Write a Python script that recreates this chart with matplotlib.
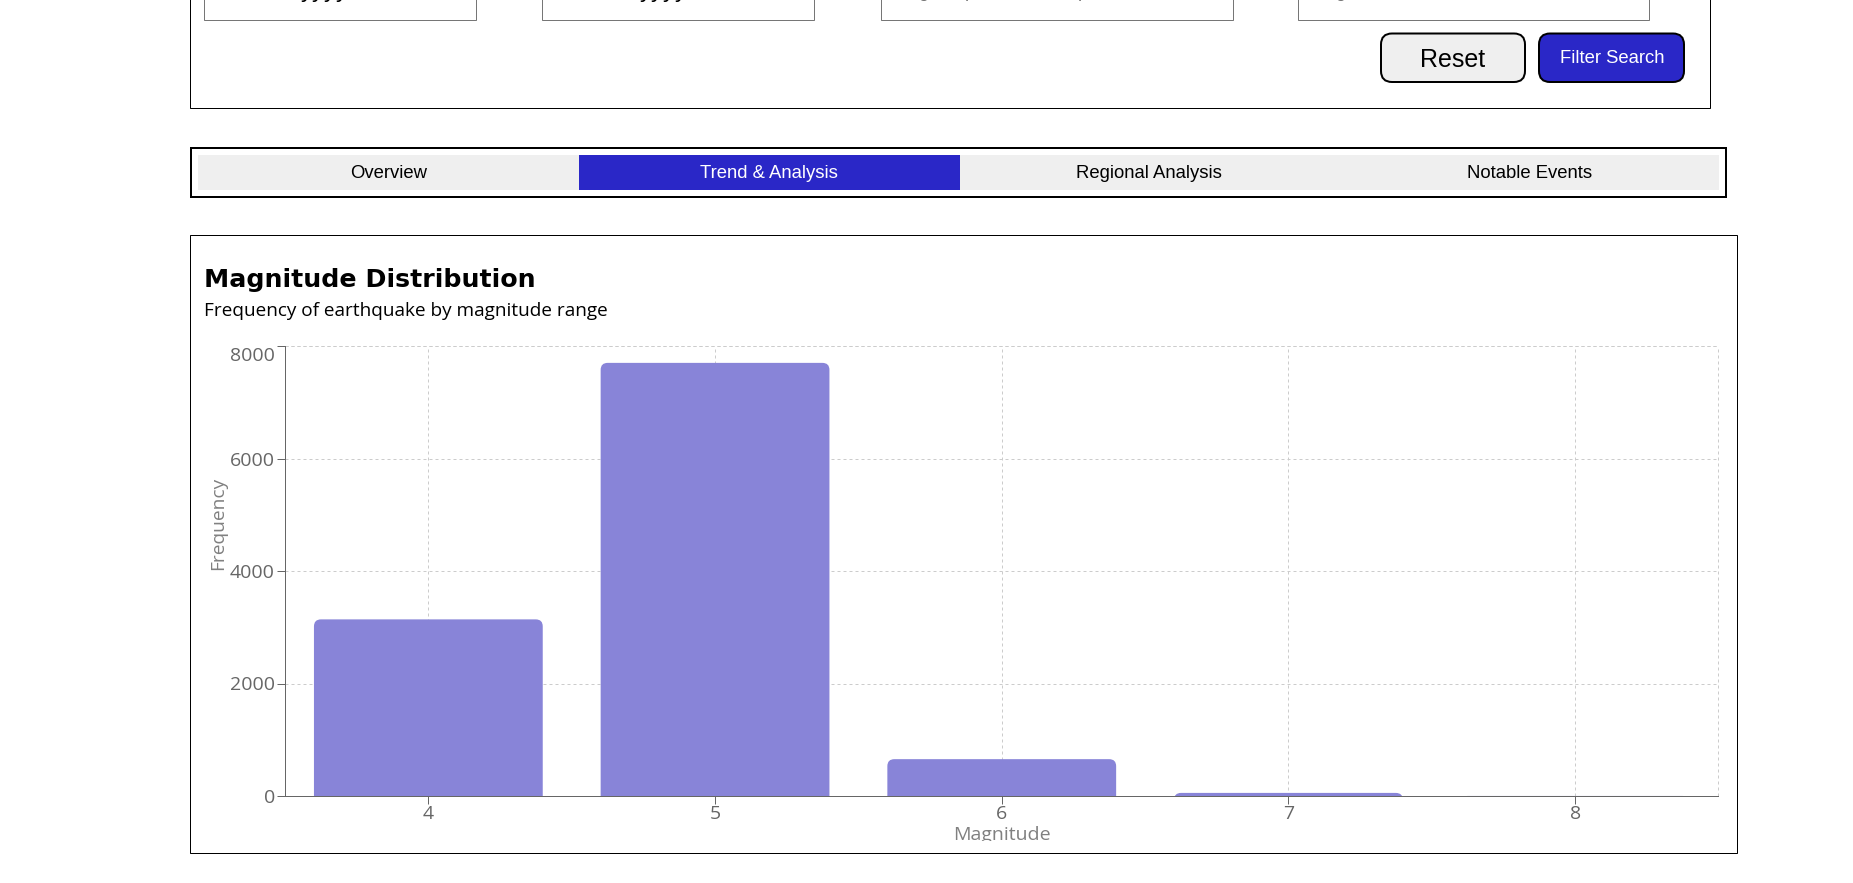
import matplotlib
matplotlib.use("Agg")
import matplotlib.pyplot as plt
from matplotlib.patches import Rectangle, FancyBboxPatch
from matplotlib.transforms import Affine2D, Bbox, ScaledTranslation

magnitudes = [4, 5, 6, 7, 8]
frequencies = [3140, 7700, 655, 55, 1]
y_ticks = [0, 2000, 4000, 6000, 8000]
tab_labels = ["Overview", "Trend & Analysis", "Regional Analysis", "Notable Events"]
tab_centers = [389, 768.6, 1149, 1529.6]

W, H = 1853, 883
BLUE = "#2a27c7"
GREY = "#666666"
BAR = "#8884d8"
SANS = "Open Sans"
ARIAL = "Liberation Sans"
px_to_pt = 0.72

fig = plt.figure(figsize=(W / 100, H / 100), dpi=100, facecolor="white")
PX = Affine2D().scale(1 / W, -1 / H).translate(0, 1) + fig.transFigure


def box(x0, y0, x1, y1, fc="none", ec="black", lw=1.0, z=1):
    fig.add_artist(Rectangle((x0, y0), x1 - x0, y1 - y0, transform=PX, facecolor=fc,
                             edgecolor=ec, linewidth=lw * px_to_pt, zorder=z))


def label(x, y, s, size, color="black", family=ARIAL, ha="center", va="center", **kw):
    return fig.text(x, y, s, transform=PX, fontsize=size * px_to_pt, color=color,
                    family=family, ha=ha, va=va, **kw)


# filter panel, running off the top of the page
box(189.5, -10, 1709.5, 107.5)
for x0, x1 in [(203.5, 475.5), (541.5, 813.5), (880.5, 1232.5), (1297.5, 1648.5)]:
    box(x0, -10, x1, 19.5, ec="#767676")
label(349, -3, "yyyy", 24, ha="right", va="baseline")
label(688, -3, "yyyy", 24, ha="right", va="baseline")
for x, ch in [(923, "g"), (970, "p"), (1009, ","), (1083, "p"), (1340, "g")]:
    label(x, -3, ch, 18, color="#757575", va="baseline")

for x0, x1, fc in [(1381, 1525, "#efefef"), (1539, 1684, BLUE)]:
    fig.add_artist(FancyBboxPatch((x0, 33.5), x1 - x0, 48.5, boxstyle="round,pad=0,rounding_size=11",
                                  transform=PX, facecolor=fc, edgecolor="black",
                                  linewidth=2 * px_to_pt, zorder=2))
label(1453, 60, "Reset", 25, zorder=3)
label(1612, 58.5, "Filter Search", 18.5, color="white", zorder=3)

# tab bar
box(191, 148, 1725.5, 197, ec="black", lw=2)
box(197.5, 155, 1719, 190, fc="#efefef", ec="none", z=2)
box(579, 155, 959.5, 190, fc=BLUE, ec="none", z=3)
for i, (x, s) in enumerate(zip(tab_centers, tab_labels)):
    label(x, 173.5, s, 18.5, color="white" if i == 1 else "black", zorder=4)

# chart card
box(189.5, 234.5, 1736.5, 852.5)
label(204, 287.5, "Magnitude Distribution", 25.2, family="DejaVu Sans", ha="left", va="baseline",
      fontweight="bold")
label(204, 316, "Frequency of earthquake by magnitude range", 19, family=SANS, ha="left", va="baseline")

# plot
L, R, T, B = 285, 1718.5, 346, 796
ax = fig.add_axes([L / W, 1 - B / H, (R - L) / W, (B - T) / H])
ax.set_xlim(3.5, 8.5)
ax.set_ylim(0, 8000)
ax.patch.set_alpha(0)
for s in ("top", "right"):
    ax.spines[s].set_visible(False)
for s in ("left", "bottom"):
    ax.spines[s].set_color(GREY)
    ax.spines[s].set_linewidth(px_to_pt)
    ax.spines[s].set_zorder(5)

ax.set_xticks(magnitudes)
ax.set_yticks(y_ticks)
ax.tick_params(axis="both", length=8 * px_to_pt, width=px_to_pt, color=GREY, labelcolor=GREY,
               labelsize=19.5 * px_to_pt)
ax.tick_params(axis="x", pad=1)
ax.tick_params(axis="y", pad=1.5)
for lab in ax.get_xticklabels() + ax.get_yticklabels():
    lab.set_family(SANS)

grid = dict(color="#cccccc", linewidth=px_to_pt, linestyle=(0, (3, 3)), zorder=0)
ax.grid(True, **grid)
ax.axvline(8.5, clip_on=False, **grid)
ax.axhline(8000, clip_on=False, **grid)
ax.set_axisbelow(True)

# rounded bars: the radius is 7 px on both axes
x_per_px = (ax.get_xlim()[1] - ax.get_xlim()[0]) / (R - L)
y_per_px = (ax.get_ylim()[1] - ax.get_ylim()[0]) / (B - T)
bar_w = 0.798
radius = 7 * x_per_px
drop = 12 * y_per_px
for m, f in zip(magnitudes, frequencies):
    ax.add_patch(FancyBboxPatch((m - bar_w / 2, -drop), bar_w, f + drop,
                                boxstyle=f"round,pad=0,rounding_size={radius}",
                                mutation_aspect=y_per_px / x_per_px,
                                facecolor=BAR, edgecolor="none", zorder=3))

ylab = ax.set_ylabel("Frequency", fontsize=19.2 * px_to_pt, color="#808080", family=SANS)
ax.yaxis.set_label_coords((227 - L) / (R - L), (B - 523) / (B - T))
xlab = ax.set_xlabel("Magnitude", fontsize=19.5 * px_to_pt, color="#808080", family=SANS, va="baseline")
ax.xaxis.set_label_coords(0.5, (B - 839.5) / (B - T))
xlab.set_clip_box(Bbox([[0, H - 841], [W, H]]))
xlab.set_clip_on(True)

fig.canvas.draw()
top = ax.get_yticklabels()[-1]
top.set_transform(top.get_transform() + ScaledTranslation(0, -8 / 100, fig.dpi_scale_trans))

fig.savefig("out.png", dpi=100, facecolor="white")
